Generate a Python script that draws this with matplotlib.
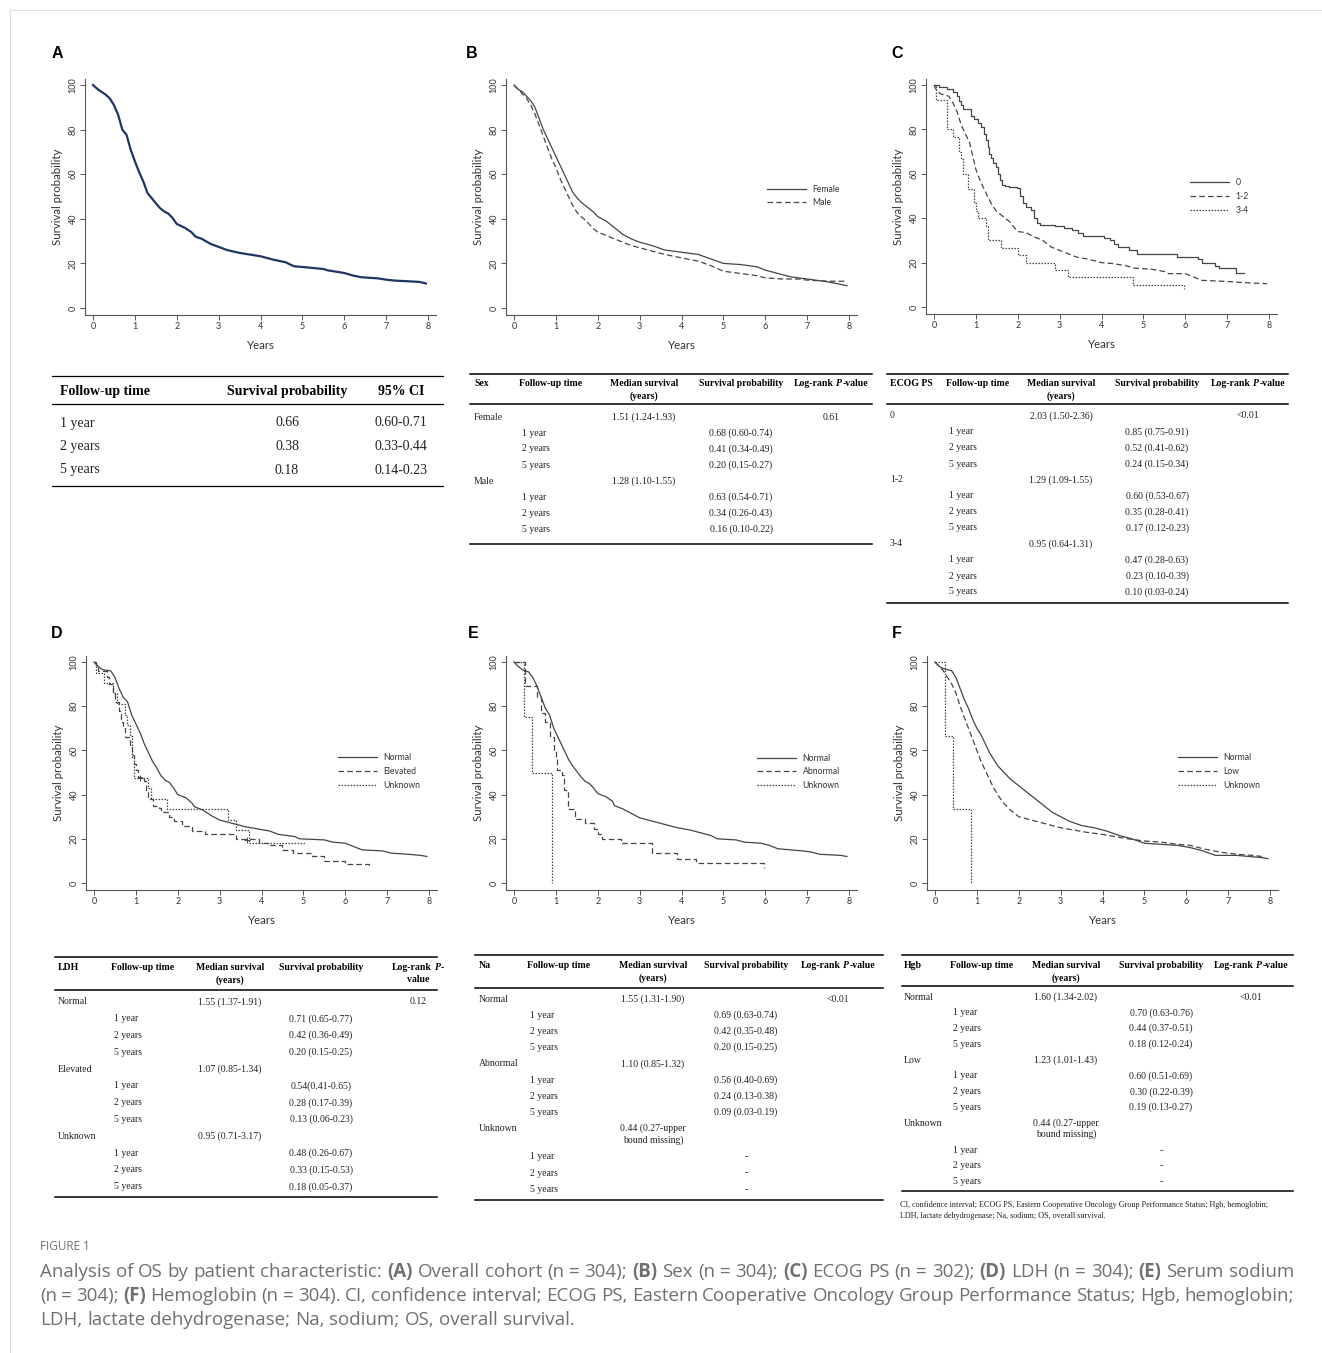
import matplotlib
matplotlib.use('Agg')
import matplotlib.pyplot as plt
from matplotlib.lines import Line2D
from matplotlib.font_manager import FontProperties

W, H = 1322, 1353
SANS = 'Lato'
SERIF = 'Liberation Serif'
CAP = 'Open Sans'
CURVE = '#454545'

# ---- Kaplan-Meier curves (years, survival %) ----
overall = [(0, 100), (0.12, 98), (0.3, 95.7), (0.4, 94), (0.5, 91), (0.6, 86.7), (0.7, 80), (0.8, 77.7),
           (0.9, 71), (1.0, 65.8), (1.1, 61), (1.2, 56.8), (1.3, 51.6), (1.4, 49.3), (1.5, 47), (1.6, 44.8),
           (1.7, 43.3), (1.8, 42.3), (1.9, 40.4), (2.0, 37.7), (2.2, 35.9), (2.35, 34), (2.45, 32), (2.6, 31),
           (2.8, 28.8), (3.0, 27.4), (3.2, 26), (3.5, 24.7), (4.0, 23.2), (4.3, 21.7), (4.6, 20.5), (4.8, 18.7),
           (5.0, 18.4), (5.5, 17.5), (5.6, 16.9), (6.0, 15.7), (6.2, 14.6), (6.4, 13.8), (6.8, 13.3), (7.0, 12.7),
           (7.2, 12.3), (7.8, 11.7), (7.95, 11)]

female = [(0, 100), (0.1, 98), (0.2, 97), (0.3, 95), (0.4, 93), (0.5, 90), (0.6, 85), (0.7, 80), (0.8, 76),
          (0.9, 72), (1.0, 68), (1.1, 64), (1.2, 60), (1.3, 56), (1.4, 52), (1.5, 49.5), (1.6, 47.5), (1.7, 46),
          (1.8, 44.5), (1.9, 43), (2.0, 41), (2.2, 39), (2.4, 36), (2.6, 33), (2.8, 31), (3.0, 29.5), (3.3, 28),
          (3.6, 26), (4.0, 25), (4.4, 24), (4.7, 22), (5.0, 20), (5.4, 19.5), (5.8, 18.5), (6.0, 17), (6.3, 15.5),
          (6.6, 14), (7.0, 13), (7.4, 12), (7.7, 11), (7.95, 10)]
male = [(0, 100), (0.1, 98), (0.2, 96), (0.3, 94), (0.4, 91), (0.5, 87), (0.6, 82), (0.7, 77), (0.8, 72),
        (0.9, 67), (1.0, 63), (1.1, 58), (1.2, 54), (1.3, 50), (1.4, 46), (1.5, 43), (1.6, 41), (1.7, 39.5),
        (1.8, 37.5), (1.9, 35.5), (2.0, 34), (2.2, 32.5), (2.4, 31), (2.6, 29.5), (2.8, 28), (3.0, 27),
        (3.3, 25.5), (3.6, 24), (4.0, 22.5), (4.4, 21), (4.7, 19), (5.0, 16.5), (5.4, 15.5), (5.8, 14.5),
        (6.0, 13.5), (6.4, 13), (6.8, 13), (7.0, 12.5), (7.5, 12), (7.9, 12)]

ecog0 = [(0, 100), (0.12, 99), (0.3, 98), (0.45, 97), (0.55, 95), (0.6, 93), (0.65, 91), (0.7, 89), (0.88, 86),
         (0.95, 84.5), (1.05, 83), (1.13, 81), (1.2, 78), (1.25, 75), (1.28, 72), (1.32, 69), (1.36, 67),
         (1.42, 65), (1.48, 63), (1.53, 60), (1.58, 57), (1.63, 55), (1.7, 54.5), (1.8, 54), (1.98, 53.5),
         (2.05, 50), (2.12, 47), (2.2, 45), (2.32, 43.5), (2.38, 40), (2.45, 38), (2.52, 37), (2.9, 36.5),
         (3.1, 35.5), (3.3, 34.5), (3.45, 33.5), (3.55, 32), (4.05, 31), (4.2, 30), (4.3, 28.5), (4.4, 27),
         (4.65, 25.5), (4.85, 24), (5.8, 22.5), (6.3, 21.5), (6.4, 20), (6.7, 18.5), (6.8, 17.5), (7.2, 15.5),
         (7.4, 15.5)]
ecog12 = [(0, 100), (0.05, 98), (0.15, 96), (0.35, 95), (0.45, 92), (0.55, 88), (0.65, 82), (0.75, 78),
          (0.85, 74), (0.95, 66), (1.0, 62), (1.1, 57), (1.2, 53), (1.3, 49), (1.4, 45.5), (1.5, 43), (1.6, 41.5),
          (1.7, 40), (1.8, 38.5), (1.95, 35), (2.0, 34), (2.2, 33.5), (2.4, 31.5), (2.6, 30), (2.8, 27),
          (3.0, 25.5), (3.2, 24), (3.4, 22.5), (3.7, 21.5), (4.0, 20), (4.3, 19.5), (4.6, 18.5), (4.8, 17.5),
          (5.2, 17), (5.5, 16), (5.6, 15), (6.0, 15), (6.2, 13.5), (6.4, 12), (7.0, 11.5), (7.4, 11), (7.95, 10.5)]
ecog34 = [(0, 100), (0.05, 93.3), (0.3, 80), (0.45, 76.7), (0.6, 70), (0.65, 66.7), (0.7, 60), (0.8, 53.3),
          (0.95, 46.7), (1.0, 43.3), (1.05, 40), (1.25, 36.7), (1.3, 30), (1.6, 26.7), (2.0, 23.3), (2.2, 20),
          (2.9, 16.7), (3.2, 13.3), (4.75, 10), (5.95, 10), (5.96, 8)]

ldh_normal = [(0, 100), (0.1, 98), (0.2, 96.5), (0.4, 96), (0.5, 93), (0.6, 88), (0.7, 84), (0.8, 82), (0.9, 76),
              (1.0, 72), (1.1, 68), (1.2, 63), (1.3, 59), (1.4, 55), (1.5, 52), (1.6, 48.5), (1.7, 46.5),
              (1.8, 45.5), (1.9, 43), (2.0, 40), (2.2, 38.5), (2.35, 36), (2.4, 34.5), (2.6, 33), (2.8, 30.5),
              (3.0, 28.5), (3.2, 27.5), (3.4, 26.5), (3.6, 25.5), (3.9, 24.5), (4.2, 23.5), (4.4, 22), (4.8, 21),
              (4.9, 20), (5.5, 19.5), (5.7, 18.5), (6.0, 18), (6.2, 16.5), (6.4, 15), (6.9, 14.5), (7.1, 13.5),
              (7.5, 13), (7.8, 12.5), (7.95, 12)]
ldh_elev = [(0, 100), (0.05, 98), (0.1, 96), (0.3, 93), (0.35, 90), (0.45, 86), (0.5, 82), (0.6, 78), (0.65, 73),
            (0.7, 70), (0.75, 66), (0.85, 62), (0.9, 58), (0.95, 54), (1.0, 51), (1.05, 48), (1.2, 46), (1.25, 42),
            (1.3, 38), (1.4, 35), (1.55, 34), (1.6, 32), (1.8, 30), (1.9, 28), (2.1, 26), (2.35, 23.5),
            (2.65, 22), (3.4, 20), (3.95, 18), (4.2, 17), (4.5, 15), (4.75, 13.5), (5.2, 12), (5.5, 10),
            (6.0, 8.5), (6.55, 8.5), (6.56, 7)]
ldh_unk = [(0, 100), (0.05, 95), (0.25, 90.5), (0.45, 86), (0.55, 81), (0.75, 76), (0.8, 71.5), (0.85, 66.7),
           (0.9, 57), (0.95, 47.6), (1.3, 42.9), (1.35, 38.1), (1.75, 33.3), (3.2, 28.6), (3.4, 23.8),
           (3.7, 17.9), (5.05, 17.9)]
ldh_unk_censor = [(1.1, 47.6), (3.65, 19.5)]

na_normal = [(0, 100), (0.1, 98), (0.2, 96.5), (0.35, 95.5), (0.45, 93), (0.55, 89), (0.65, 84), (0.75, 79),
             (0.85, 76), (0.95, 70), (1.0, 68), (1.1, 64), (1.2, 60), (1.3, 56), (1.4, 53), (1.5, 50.5),
             (1.6, 48), (1.7, 46), (1.8, 45), (1.9, 43), (2.0, 40.5), (2.2, 39), (2.35, 37), (2.4, 35),
             (2.6, 33.5), (2.8, 31.5), (3.0, 29.5), (3.2, 28.5), (3.4, 27.5), (3.6, 26.5), (3.9, 25), (4.2, 24),
             (4.4, 23), (4.7, 21.5), (4.85, 20), (5.3, 19.5), (5.5, 18.5), (5.9, 18), (6.1, 17), (6.3, 15.5),
             (6.6, 15), (6.9, 14.5), (7.1, 14), (7.3, 13), (7.8, 12.5), (7.95, 12)]
na_abn = [(0, 100), (0.27, 89), (0.55, 84), (0.65, 77), (0.75, 73), (0.85, 66), (0.95, 60), (1.0, 56),
          (1.03, 51), (1.15, 49), (1.2, 42), (1.3, 33.5), (1.45, 29), (1.7, 27), (1.9, 24.5), (2.0, 22),
          (2.1, 20), (2.55, 18), (3.3, 13.5), (3.9, 11), (4.35, 9), (5.95, 9), (5.96, 7)]
na_unk = [(0, 100), (0.25, 75), (0.42, 50), (0.9, 0)]

hgb_normal = [(0, 100), (0.1, 98), (0.2, 97), (0.4, 96), (0.5, 93), (0.6, 88), (0.7, 83), (0.8, 79), (0.9, 74),
              (1.0, 70), (1.1, 67), (1.2, 63), (1.3, 59), (1.4, 56), (1.5, 53), (1.6, 51), (1.7, 49), (1.8, 47),
              (1.9, 45.5), (2.0, 44), (2.2, 41), (2.4, 38), (2.6, 35), (2.8, 32), (3.0, 30), (3.2, 28), (3.5, 26),
              (3.8, 25), (4.1, 23.5), (4.4, 21.5), (4.7, 20), (5.0, 18), (5.4, 17.5), (5.8, 17), (6.1, 16),
              (6.4, 14.5), (6.7, 12.5), (7.2, 12.5), (7.5, 12), (7.8, 11.5), (7.95, 11)]
hgb_low = [(0, 100), (0.1, 98), (0.2, 96), (0.3, 93), (0.4, 90), (0.5, 86), (0.6, 80), (0.7, 75), (0.8, 70),
           (0.9, 65), (1.0, 60), (1.1, 55), (1.2, 51), (1.3, 47), (1.4, 43), (1.5, 40), (1.6, 37), (1.7, 35),
           (1.8, 33), (1.9, 31.5), (2.0, 30), (2.2, 29), (2.4, 28), (2.6, 27), (2.8, 26), (3.0, 25), (3.3, 24),
           (3.6, 23), (4.0, 22), (4.3, 21), (4.6, 20), (5.0, 19), (5.4, 18.5), (5.8, 17.5), (6.1, 17),
           (6.4, 15.5), (6.8, 14), (7.2, 13), (7.6, 12.5), (7.8, 12)]
hgb_unk = [(0, 100), (0.24, 66.7), (0.42, 33.3), (0.86, 0)]

# ---- tables ----
follow_labels = ['1 year', '2 years', '5 years']
overall_prob = ['0.66', '0.38', '0.18']
overall_ci = ['0.60-0.71', '0.33-0.44', '0.14-0.23']

sex_groups = ['Female', 'Male']
sex_median = ['1.51 (1.24-1.93)', '1.28 (1.10-1.55)']
sex_prob = [['0.68 (0.60-0.74)', '0.41 (0.34-0.49)', '0.20 (0.15-0.27)'],
            ['0.63 (0.54-0.71)', '0.34 (0.26-0.43)', '0.16 (0.10-0.22)']]
sex_p = '0.61'

ecog_groups = ['0', '1-2', '3-4']
ecog_median = ['2.03 (1.50-2.36)', '1.29 (1.09-1.55)', '0.95 (0.64-1.31)']
ecog_prob = [['0.85 (0.75-0.91)', '0.52 (0.41-0.62)', '0.24 (0.15-0.34)'],
             ['0.60 (0.53-0.67)', '0.35 (0.28-0.41)', '0.17 (0.12-0.23)'],
             ['0.47 (0.28-0.63)', '0.23 (0.10-0.39)', '0.10 (0.03-0.24)']]
ecog_p = '<0.01'

ldh_groups = ['Normal', 'Elevated', 'Unknown']
ldh_median = ['1.55 (1.37-1.91)', '1.07 (0.85-1.34)', '0.95 (0.71-3.17)']
ldh_prob = [['0.71 (0.65-0.77)', '0.42 (0.36-0.49)', '0.20 (0.15-0.25)'],
            ['0.54(0.41-0.65)', '0.28 (0.17-0.39)', '0.13 (0.06-0.23)'],
            ['0.48 (0.26-0.67)', '0.33 (0.15-0.53)', '0.18 (0.05-0.37)']]
ldh_p = '0.12'

na_groups = ['Normal', 'Abnormal', 'Unknown']
na_median = ['1.55 (1.31-1.90)', '1.10 (0.85-1.32)', '0.44 (0.27-upper\nbound missing)']
na_prob = [['0.69 (0.63-0.74)', '0.42 (0.35-0.48)', '0.20 (0.15-0.25)'],
           ['0.56 (0.40-0.69)', '0.24 (0.13-0.38)', '0.09 (0.03-0.19)'],
           ['-', '-', '-']]
na_p = '<0.01'

hgb_groups = ['Normal', 'Low', 'Unknown']
hgb_median = ['1.60 (1.34-2.02)', '1.23 (1.01-1.43)', '0.44 (0.27-upper\nbound missing)']
hgb_prob = [['0.70 (0.63-0.76)', '0.44 (0.37-0.51)', '0.18 (0.12-0.24)'],
            ['0.60 (0.51-0.69)', '0.30 (0.22-0.39)', '0.19 (0.13-0.27)'],
            ['-', '-', '-']]
hgb_p = '<0.01'

footnote = ['CI, confidence interval; ECOG PS, Eastern Cooperative Oncology Group Performance Status; Hgb, hemoglobin;',
            'LDH, lactate dehydrogenase; Na, sodium; OS, overall survival.']

fig = plt.figure(figsize=(W / 100, H / 100), dpi=100)
R = fig.canvas.get_renderer()


def fx(x):
    return x / W


def fy(y):
    return 1 - y / H


def hline(x0, x1, y, lw=1.1, color='black'):
    fig.add_artist(Line2D([fx(x0), fx(x1)], [fy(y), fy(y)], lw=lw, color=color, transform=fig.transFigure))


def vline(x, y0, y1, lw=0.8, color='#dddddd'):
    fig.add_artist(Line2D([fx(x), fx(x)], [fy(y0), fy(y1)], lw=lw, color=color, transform=fig.transFigure))


def txt(x, y, s, size=7, bold=False, ha='left', family=SERIF, color='#222222'):
    fig.text(fx(x), fy(y), s, fontsize=size, fontweight='bold' if bold else 'normal',
             family=family, ha=ha, va='center', color=color)


def width_of(s, prop):
    w1 = R.get_text_width_height_descent('|' + s + '|', prop, ismath=False)[0]
    w0 = R.get_text_width_height_descent('||', prop, ismath=False)[0]
    return w1 - w0


def tokens_of(parts):
    toks = []
    for text, prop in parts:
        buf = ''
        for ch in text:
            if ch == ' ':
                if buf:
                    toks.append((buf, prop))
                    buf = ''
                toks.append((' ', prop))
            else:
                buf += ch
        if buf:
            toks.append((buf, prop))
    return toks


def rich(x, y, parts, ha='left', width=None, color='#222222'):
    toks = tokens_of(parts)
    ws = [width_of(t, p) for t, p in toks]
    total = sum(ws)
    extra = 0
    nsp = sum(1 for t, p in toks if t == ' ')
    if width is not None and nsp:
        extra = (width - total) / nsp
        total = width
    xx = x - total / 2 if ha == 'center' else x
    for (t, p), w in zip(toks, ws):
        if t == ' ':
            xx += w + extra
            continue
        fig.text(fx(xx), fy(y), t, fontproperties=p, ha='left', va='center', color=color)
        xx += w


def km_axes(x0, x8, y100, y0):
    sx = (x8 - x0) / 8.0
    sy = (y0 - y100) / 100.0
    left, right = x0 - 0.2 * sx, x8 + 0.2 * sx
    top, bottom = y100 - 2.5 * sy, y0 + 3.0 * sy
    ax = fig.add_axes([fx(left), fy(bottom), (right - left) / W, (bottom - top) / H])
    ax.set_xlim(-0.2, 8.2)
    ax.set_ylim(-3, 102.5)
    ax.set_xticks(range(9))
    ax.set_yticks(range(0, 101, 20))
    for side in ['top', 'right']:
        ax.spines[side].set_visible(False)
    for side in ['left', 'bottom']:
        ax.spines[side].set_color('#555555')
        ax.spines[side].set_linewidth(0.8)
    ax.tick_params(direction='out', length=3.5, width=0.7, colors='#555555',
                   labelcolor='#333333', labelsize=6.5, pad=2)
    ax.tick_params(axis='y', labelrotation=90, pad=1.5)
    for lab in ax.get_xticklabels() + ax.get_yticklabels():
        lab.set_family(SANS)
    for lab in ax.get_yticklabels():
        lab.set_va('center')
    ax.set_xlabel('Years', fontsize=8.3, family=SANS, color='#333333')
    ax.set_ylabel('Survival probability', fontsize=8.3, family=SANS, color='#333333')
    ax.xaxis.label.set_va('center')
    ax.yaxis.label.set_va('center')
    ax.xaxis.set_label_coords(0.5, -30.5 / (bottom - top))
    ax.yaxis.set_label_coords(-27.5 / (right - left), 0.5)
    ax.box_px = (left, top, right, bottom)
    return ax


DASH = (0, (4.5, 2.5))
DOT = (0, (1.2, 1.2))


def km(ax, pts, ls='-', step=True, color=CURVE, lw=0.9, label=None):
    t = [p[0] for p in pts]
    s = [p[1] for p in pts]
    if step:
        return ax.step(t, s, where='post', color=color, lw=lw, ls=ls, label=label)[0]
    return ax.plot(t, s, color=color, lw=lw, ls=ls, label=label)[0]


def km_legend(ax, handles, x, y):
    left, top, right, bottom = ax.box_px
    anchor = ((x - left) / (right - left), (bottom - y) / (bottom - top))
    leg = ax.legend(handles=handles, loc='center left', bbox_to_anchor=anchor, frameon=False,
                    prop={'family': SANS, 'size': 6.2}, handlelength=4.5, handletextpad=0.8,
                    labelspacing=0.55, borderpad=0, borderaxespad=0)
    for t in leg.get_texts():
        t.set_color('#333333')


def panel_letter(x, y, s):
    fig.text(fx(x), fy(y), s, fontsize=11.5, fontweight='bold', family='Liberation Sans',
             ha='center', va='center', color='black')


def subtable(x0, x1, ytop, yhead, yrule, yfirst, dy, ybottom, cols, title, groups, medians, probs,
             pval, extra=12, p_split=False, fs=7):
    cg, cf, cm, cp, cpv = cols
    hline(x0, x1, ytop)
    hline(x0, x1, yrule)
    hline(x0, x1, ybottom)
    txt(cg, yhead, title, fs, True, color='black')
    txt(cf, yhead, 'Follow-up time', fs, True, color='black')
    txt(cm, yhead, 'Median survival', fs, True, 'center', color='black')
    txt(cm, yhead + 12, '(years)', fs, True, 'center', color='black')
    txt(cp, yhead, 'Survival probability', fs, True, 'center', color='black')
    b = FontProperties(family=SERIF, weight='bold', size=fs)
    bi = FontProperties(family=SERIF, weight='bold', style='italic', size=fs)
    if p_split:
        rich(cpv, yhead, [('Log-rank ', b), ('P', bi), ('-', b)], ha='center', color='black')
        txt(cpv, yhead + 12, 'value', fs, True, 'center', color='black')
    else:
        rich(cpv, yhead, [('Log-rank ', b), ('P', bi), ('-value', b)], ha='center', color='black')
    y = yfirst
    for gi, g in enumerate(groups):
        txt(cg, y, g, fs)
        mlines = medians[gi].split('\n')
        for li, m in enumerate(mlines):
            txt(cm, y + li * extra, m, fs, ha='center')
        if gi == 0:
            txt(cpv, y, pval, fs, ha='center')
        y += dy + (len(mlines) - 1) * extra
        for fi, f in enumerate(follow_labels):
            txt(cf + 3, y, f, fs)
            txt(cp, y, probs[gi][fi], fs, ha='center')
            y += dy


# faint page frame
hline(10, W, 10, lw=0.8, color='#dddddd')
vline(10, 10, H)

# ---- Panel A ----
panel_letter(57, 53, 'A')
axA = km_axes(93, 428, 85, 308)
km(axA, overall, step=False, color='#1f3563', lw=1.6)

hline(52, 443, 376, lw=0.9)
hline(52, 443, 404, lw=0.9)
hline(52, 443, 486, lw=0.9)
txt(60, 391, 'Follow-up time', 10, True, color='black')
txt(287, 391, 'Survival probability', 10, True, 'center', color='black')
txt(401, 391, '95% CI', 10, True, 'center', color='black')
for i, f in enumerate(follow_labels):
    yy = 423 + i * 23.5
    txt(60, yy, f, 10)
    txt(287, yy, overall_prob[i], 10, ha='center')
    txt(401, yy, overall_ci[i], 10, ha='center')

# ---- Panel B ----
panel_letter(472, 53, 'B')
axB = km_axes(514, 849, 85, 308)
h1 = km(axB, female, step=False, label='Female')
h2 = km(axB, male, ls=DASH, step=False, label='Male')
km_legend(axB, [h1, h2], 767, 196)
subtable(470, 872, 374, 384, 404, 417, 16, 544, (474, 519, 644, 741, 831),
         'Sex', sex_groups, sex_median, sex_prob, sex_p)

# ---- Panel C ----
panel_letter(897, 53, 'C')
axC = km_axes(934, 1269, 85, 307)
h1 = km(axC, ecog0, label='0')
h2 = km(axC, ecog12, ls=DASH, step=False, label='1-2')
h3 = km(axC, ecog34, ls=DOT, label='3-4')
km_legend(axC, [h1, h2, h3], 1190, 196.5)
subtable(887, 1288, 374, 384, 404, 416, 16, 603, (890, 946, 1061, 1157, 1248),
         'ECOG PS', ecog_groups, ecog_median, ecog_prob, ecog_p)

# ---- Panel D ----
panel_letter(57, 634, 'D')
axD = km_axes(94, 429, 662, 883)
h1 = km(axD, ldh_normal, step=False, label='Normal')
h2 = km(axD, ldh_elev, ls=DASH, label='Elevated')
h3 = km(axD, ldh_unk, ls=DOT, label='Unknown')
axD.plot([p[0] for p in ldh_unk_censor], [p[1] for p in ldh_unk_censor], '+', color=CURVE, ms=4, mew=0.7)
km_legend(axD, [h1, h2, h3], 338, 771.5)
subtable(55, 437, 957, 968, 990, 1002, 16.8, 1197, (58, 111, 230, 321, 418),
         'LDH', ldh_groups, ldh_median, ldh_prob, ldh_p, p_split=True)

# ---- Panel E ----
panel_letter(473, 634, 'E')
axE = km_axes(514, 849, 662, 883)
h1 = km(axE, na_normal, step=False, label='Normal')
h2 = km(axE, na_abn, ls=DASH, label='Abnormal')
h3 = km(axE, na_unk, ls=DOT, label='Unknown')
km_legend(axE, [h1, h2, h3], 757, 772)
subtable(475, 883, 955, 966, 988, 999, 16.2, 1200, (479, 527, 653, 746, 838),
         'Na', na_groups, na_median, na_prob, na_p, extra=12)

# ---- Panel F ----
panel_letter(897, 634, 'F')
axF = km_axes(935, 1270, 662, 883)
h1 = km(axF, hgb_normal, step=False, label='Normal')
h2 = km(axF, hgb_low, ls=DASH, step=False, label='Low')
h3 = km(axF, hgb_unk, ls=DOT, label='Unknown')
km_legend(axF, [h1, h2, h3], 1178, 771.5)
subtable(902, 1293, 955, 966, 986, 997, 15.8, 1191, (904, 950, 1066, 1161, 1251),
         'Hgb', hgb_groups, hgb_median, hgb_prob, hgb_p, extra=11)
txt(900, 1205, footnote[0], 5.9)
txt(900, 1216, footnote[1], 5.9)

# ---- caption ----
CAPC = '#707070'
fig.text(fx(40), fy(1247), 'FIGURE 1', fontsize=8.5, family=CAP, color=CAPC, ha='left', va='center')


def cap_parts(size):
    n = FontProperties(family=CAP, size=size)
    b = FontProperties(family=CAP, size=size, weight='bold')
    l1 = [('Analysis of OS by patient characteristic: ', n), ('(A)', b), (' Overall cohort (n = 304); ', n),
          ('(B)', b), (' Sex (n = 304); ', n), ('(C)', b), (' ECOG PS (n = 302); ', n), ('(D)', b),
          (' LDH (n = 304); ', n), ('(E)', b), (' Serum sodium', n)]
    l2 = [('(n = 304); ', n), ('(F)', b), (' Hemoglobin (n = 304). CI, confidence interval; ECOG PS, Eastern '
                                          'Cooperative Oncology Group Performance Status; Hgb, hemoglobin;', n)]
    l3 = [('LDH, lactate dehydrogenase; Na, sodium; OS, overall survival.', n)]
    return l1, l2, l3


l1, _, _ = cap_parts(10)
w10 = sum(width_of(t, p) for t, p in tokens_of(l1))
csize = 10 * 1254 / w10
l1, l2, l3 = cap_parts(csize)
rich(40, 1272, l1, width=1254, color=CAPC)
rich(40, 1296, l2, width=1254, color=CAPC)
rich(40, 1320, l3, color=CAPC)

fig.savefig('out.png', dpi=100, facecolor='white')
